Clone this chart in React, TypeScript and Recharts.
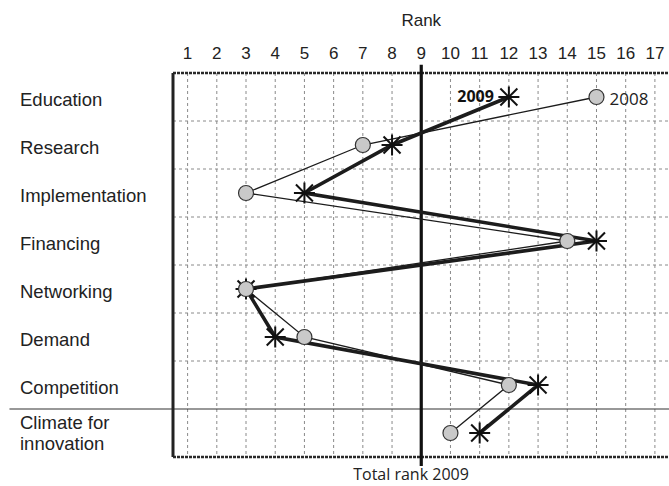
import React from "react";
import { ScatterChart, Scatter, XAxis, YAxis, CartesianGrid, ReferenceLine, ReferenceDot } from "recharts";

const categories = [
  "Education",
  "Research",
  "Implementation",
  "Financing",
  "Networking",
  "Demand",
  "Competition",
  "Climate for innovation",
];
const rank2008 = [15, 7, 3, 14, 3, 5, 12, 10];
const rank2009 = [12, 8, 5, 15, 3, 4, 13, 11];
const rankTicks = [1, 2, 3, 4, 5, 6, 7, 8, 9, 10, 11, 12, 13, 14, 15, 16, 17];
const rowTicks = [1, 2, 3, 4, 5, 6, 7, 8];
const rowDividers = [1.5, 2.5, 3.5, 4.5, 5.5, 6.5];
const totalRank2009 = 9;

const data2008 = categories.map((name, i) => ({ name, row: i + 1, rank: rank2008[i] }));
const data2009 = categories.map((name, i) => ({ name, row: i + 1, rank: rank2009[i] }));

const SANS = "'Liberation Sans', Arial, sans-serif";
const LABEL_FONT = "'Open Sans', 'Noto Sans', sans-serif";
const INK = "#1c1c1c";

const RankTick = ({ x, payload }: any) => (
  <text x={x} y={58.5} textAnchor="middle" fontFamily={SANS} fontSize={17} fill="#222">
    {payload.value}
  </text>
);

const CategoryTick = ({ y, payload }: any) => {
  const label = categories[payload.value - 1] || "";
  if (label === "Climate for innovation") {
    return (
      <text x={20} y={y - 4} fontFamily={SANS} fontSize={18.5} fill="#222">
        <tspan x={20}>Climate for</tspan>
        <tspan x={20} dy={21}>innovation</tspan>
      </text>
    );
  }
  return (
    <text x={20} y={y + 8.5} fontFamily={SANS} fontSize={18.5} fill="#222">
      {label}
    </text>
  );
};

const Asterisk = ({ cx, cy, payload }: any) => {
  const r = 10.5;
  const d = 8.5;
  return (
    <g>
      <g stroke="#111" strokeWidth={2}>
        <line x1={cx} y1={cy - r} x2={cx} y2={cy + r} />
        <line x1={cx - r} y1={cy} x2={cx + r} y2={cy} />
        <line x1={cx - d} y1={cy - d} x2={cx + d} y2={cy + d} />
        <line x1={cx - d} y1={cy + d} x2={cx + d} y2={cy - d} />
      </g>
      {payload && payload.row === 1 && (
        <text x={cx - 15} y={cy + 5} textAnchor="end" fontFamily={LABEL_FONT} fontWeight={700} fontSize={16} fill="#111">
          2009
        </text>
      )}
    </g>
  );
};

const Circle = ({ cx, cy, payload }: any) => (
  <g>
    <circle cx={cx} cy={cy} r={7.5} fill="#c9c9c9" stroke="#333" strokeWidth={1.2} />
    {payload && payload.row === 1 && (
      <text x={cx + 13} y={cy + 8} fontFamily={LABEL_FONT} fontSize={17} fill="#222">
        2008
      </text>
    )}
  </g>
);

const NoShape = () => <g />;

export default function App() {
  return (
    <div style={{ position: "absolute", left: 0, top: 0, width: 669, height: 486, overflow: "hidden", background: "#fff" }}>
      <ScatterChart width={671} height={486} margin={{ top: 0, right: 1.5, bottom: 29, left: 0 }}>
        <CartesianGrid horizontal={false} stroke="#8a8a8a" strokeDasharray="3 3" />
        <XAxis
          type="number"
          dataKey="rank"
          orientation="top"
          domain={[0.5, 17.5]}
          ticks={rankTicks}
          height={73}
          axisLine={false}
          tickLine={false}
          tick={<RankTick />}
          interval={0}
          allowDataOverflow
          label={{ value: "Rank", position: "insideTop", offset: 14, fontFamily: SANS, fontSize: 17, fill: "#222" }}
        />
        <YAxis
          type="number"
          dataKey="row"
          domain={[0.5, 8.5]}
          ticks={rowTicks}
          reversed
          width={173}
          axisLine={false}
          tickLine={false}
          tick={<CategoryTick />}
          interval={0}
          allowDataOverflow
        />
        {rowDividers.map((v) => (
          <ReferenceLine key={v} y={v} stroke="#8a8a8a" strokeDasharray="3 3" />
        ))}
        <ReferenceLine
          segment={[{ x: -5.1, y: 7.5 }, { x: 17.5, y: 7.5 }]}
          stroke="#333"
          strokeWidth={1.2}
          ifOverflow="visible"
        />
        <ReferenceLine y={0.5} stroke="#2a2a2a" strokeWidth={2.5} strokeDasharray="3 1" />
        <ReferenceLine y={8.5} stroke="#2a2a2a" strokeWidth={2.5} strokeDasharray="3 1" />
        <ReferenceLine x={0.5} stroke="#222" strokeWidth={3} />
        <ReferenceLine
          segment={[{ x: totalRank2009, y: 0.33 }, { x: totalRank2009, y: 8.69 }]}
          stroke="#111"
          strokeWidth={3.2}
          ifOverflow="visible"
        />
        <ReferenceDot
          x={totalRank2009 - 0.35}
          y={8.5}
          r={0}
          ifOverflow="visible"
          label={{ value: "Total rank 2009", position: "bottom", offset: 12, fontFamily: LABEL_FONT, fontSize: 16, fill: "#222" }}
        />
        <Scatter
          data={data2008}
          line={{ stroke: INK, strokeWidth: 1.3 }}
          lineType="joint"
          shape={<NoShape />}
          isAnimationActive={false}
        />
        <Scatter
          data={data2009}
          line={{ stroke: INK, strokeWidth: 3.6 }}
          lineType="joint"
          shape={<Asterisk />}
          isAnimationActive={false}
        />
        <Scatter data={data2008} shape={<Circle />} isAnimationActive={false} />
      </ScatterChart>
    </div>
  );
}
